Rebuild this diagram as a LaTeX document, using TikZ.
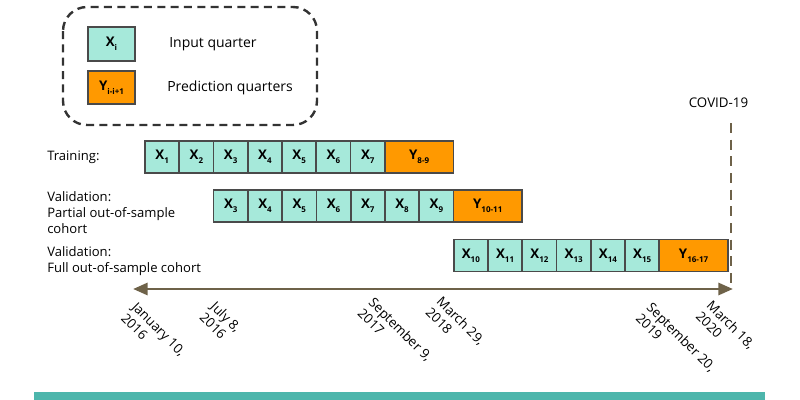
\documentclass[tikz,border=0pt]{standalone}
\usepackage{fontspec}
\setmainfont{Open Sans}
\usetikzlibrary{positioning,arrows.meta}

\definecolor{inputteal}{HTML}{A6E9DA}
\definecolor{predorange}{HTML}{FF9900}
\definecolor{timebrown}{HTML}{6E6249}
\definecolor{boxgray}{HTML}{4A4A4A}
\definecolor{frameline}{HTML}{333333}
\definecolor{barteal}{HTML}{4DB6AC}

% quarter label with a low, small subscript
\newcommand{\qlab}[2]{#1\raisebox{-3pt}{\fontsize{6pt}{6pt}\selectfont #2}}

\tikzset{
  quarter/.style={draw=boxgray, line width=1.3pt, minimum height=24pt, inner sep=0pt, outer sep=0pt,
    font=\bfseries\fontsize{10pt}{11pt}\selectfont},
  inq/.style={quarter, fill=inputteal, minimum width=25.7pt},
  predq/.style={quarter, fill=predorange, minimum width=51.4pt},
  rowlbl/.style={anchor=west, align=left, inner sep=0pt, font=\fontsize{9.8pt}{12pt}\selectfont},
  leglbl/.style={anchor=west, inner sep=0pt, font=\fontsize{10.5pt}{12pt}\selectfont},
  datelbl/.style={rotate=-45, anchor=north west, align=left, inner sep=0pt, font=\fontsize{10pt}{11.5pt}\selectfont},
  timeline/.style={draw=timebrown, line width=2.2pt, {Triangle[length=11pt,width=9pt]}-{Triangle[length=11pt,width=9pt]}},
  covidline/.style={draw=timebrown, line width=2.2pt, dash pattern=on 7.5pt off 5pt},
  legendframe/.style={draw=frameline, line width=1.8pt, dash pattern=on 6pt off 4pt, rounded corners=18pt}
}

\begin{document}
\begin{tikzpicture}[x=0.75pt,y=-0.75pt]
\useasboundingbox (0,0) rectangle (800,400);

% legend
\draw[legendframe] (63,7) rectangle (317,125);
\node[inq, minimum width=35pt, minimum height=25pt] (legx) at (111.5,44) {\qlab{X}{i}};
\node[predq, minimum width=35pt, minimum height=25pt] (legy) at (111.5,87.5) {\qlab{Y}{i-i+1}};
\node[leglbl] (legxt) at (169,44) {Input quarter};
\node[leglbl] (legyt) at (167,88) {Prediction quarters};

% training
\node[rowlbl] (trlbl) at (47,157) {Training:};
\node[inq, anchor=west] (tr1) at (145,157) {\qlab{X}{1}};
\foreach \i [remember=\i as \j (initially 1)] in {2,...,7}
  \node[inq, right=0pt of tr\j] (tr\i) {\qlab{X}{\i}};
\node[predq, right=0pt of tr7] (try) {\qlab{Y}{8-9}};

% validation, partial
\node[rowlbl] (valbl) at (47,213) {Validation:\\Partial out-of-sample\\cohort};
\node[inq, anchor=west] (va3) at (213.6,206) {\qlab{X}{3}};
\foreach \i [remember=\i as \j (initially 3)] in {4,...,9}
  \node[inq, right=0pt of va\j] (va\i) {\qlab{X}{\i}};
\node[predq, right=0pt of va9] (vay) {\qlab{Y}{10-11}};

% validation, full
\node[rowlbl] (fulbl) at (47,261) {Validation:\\Full out-of-sample cohort};
\node[inq, anchor=west] (fu10) at (453.7,255.5) {\qlab{X}{10}};
\foreach \i [remember=\i as \j (initially 10)] in {11,...,15}
  \node[inq, right=0pt of fu\j] (fu\i) {\qlab{X}{\i}};
\node[predq, right=0pt of fu15] (fuy) {\qlab{Y}{16-17}};

% covid marker
\node[font=\fontsize{10pt}{12pt}\selectfont] (covid) at (718.5,103) {COVID-19};
\coordinate (cvtop) at (731,123);
\coordinate (cvbot) at (731,287);
\draw[covidline] (cvtop) -- (cvbot);

% time axis
\coordinate (tstart) at (133,289);
\coordinate (tend) at (733,289);
\draw[timeline] (tstart) -- (tend);

% dates
\node[datelbl] (d1) at (138,301) {January 10,\\2016};
\node[datelbl] (d2) at (217,300) {July 8,\\2016};
\node[datelbl] (d3) at (375,296) {September 9,\\2017};
\node[datelbl] (d4) at (443,295) {March 29,\\2018};
\node[datelbl] (d5) at (653,301) {September 20,\\2019};
\node[datelbl] (d6) at (713,299) {March 18,\\2020};

% bottom band
\fill[barteal] (33.7,391.7) rectangle (765,400);
\end{tikzpicture}
\end{document}
